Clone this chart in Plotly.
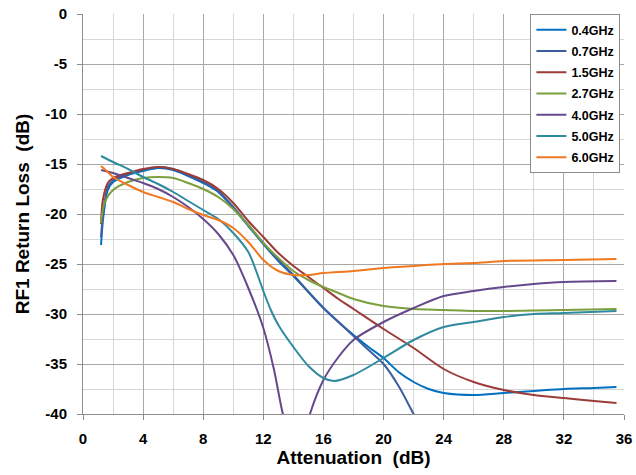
import plotly.graph_objects as go

# ---------------- data ----------------
att_04 = [1.2, 1.35, 1.65, 2, 3, 4, 5, 6, 7, 8, 9, 10, 11, 12, 13, 14, 15, 16, 17, 18, 19, 20, 21, 22, 23, 24, 26, 28, 30, 32, 34, 35.5]
rl_04 = [-23.1, -20.3, -17.6, -16.8, -16.1, -15.7, -15.4, -15.6, -16.2, -16.9, -17.8, -19.4, -21.2, -23.0, -24.7, -26.2, -27.8, -29.4, -30.8, -32.1, -33.3, -34.4, -35.8, -36.8, -37.5, -37.9, -38.1, -37.9, -37.7, -37.5, -37.4, -37.3]

att_07 = [1.2, 1.35, 1.65, 2, 3, 4, 5, 6, 7, 8, 9, 10, 11, 12, 13, 14, 15, 16, 17, 18, 19, 20, 21, 22, 23]
rl_07 = [-22.3, -19.8, -17.3, -16.6, -16.0, -15.6, -15.3, -15.5, -16.1, -16.8, -17.7, -19.3, -21.1, -22.9, -24.6, -26.1, -27.8, -29.4, -30.8, -32.2, -33.6, -35.0, -37.2, -40.0, -42.8]

att_15 = [1.2, 1.32, 1.65, 2, 3, 4, 5, 6, 7, 8, 9, 10, 11, 12, 13, 14, 15, 16, 17, 18, 20, 22, 24, 26, 28, 30, 32, 34, 35.5]
rl_15 = [-21.0, -18.6, -16.9, -16.4, -15.9, -15.5, -15.3, -15.5, -16.0, -16.6, -17.5, -18.9, -20.7, -22.3, -23.9, -25.2, -26.3, -27.4, -28.5, -29.5, -31.5, -33.4, -35.5, -36.8, -37.6, -38.1, -38.4, -38.7, -38.9]

att_27 = [1.2, 1.43, 2, 3, 4, 5, 6, 7, 8, 9, 10, 11, 12, 13, 14, 15, 16, 17, 18, 20, 22, 24, 26, 28, 32, 35.5]
rl_27 = [-20.9, -18.9, -17.6, -16.8, -16.4, -16.3, -16.4, -16.9, -17.5, -18.3, -19.5, -21.1, -22.9, -24.4, -25.7, -26.6, -27.3, -27.9, -28.5, -29.2, -29.5, -29.6, -29.7, -29.7, -29.6, -29.5]

att_40 = [1.2, 2, 3, 4, 5, 6, 7, 8, 9, 10, 11, 12, 12.7, 13.3, 14, 14.5, 15.1, 16, 17, 18, 20, 22, 24, 26, 28, 30, 32, 35.5]
rl_40 = [-15.6, -15.9, -16.4, -16.9, -17.5, -18.3, -19.3, -20.5, -22.0, -24.1, -27.4, -31.4, -35.5, -40.0, -43.5, -43.5, -40.0, -36.6, -34.3, -32.6, -30.8, -29.4, -28.2, -27.7, -27.3, -27.0, -26.8, -26.7]

att_50 = [1.2, 2, 3, 4, 5, 6, 7, 8, 9, 10, 11, 11.5, 12, 12.5, 13, 14, 15, 16, 16.7, 18, 20, 22, 24, 26, 28, 30, 32, 35.5]
rl_50 = [-14.2, -14.8, -15.5, -16.3, -17.0, -17.8, -18.7, -19.6, -20.5, -21.9, -23.8, -25.6, -27.7, -29.6, -31.1, -33.3, -35.2, -36.4, -36.7, -36.1, -34.4, -32.6, -31.3, -30.8, -30.3, -30.0, -29.9, -29.7]

att_60 = [1.2, 1.65, 2, 3, 4, 5, 6, 7, 8, 9, 10, 11, 12, 13, 14, 15, 16, 18, 20, 22, 24, 26, 28, 32, 35.5]
rl_60 = [-15.2, -15.8, -16.3, -17.1, -17.8, -18.3, -18.8, -19.5, -20.1, -20.6, -21.4, -22.8, -24.6, -25.7, -26.1, -26.1, -25.9, -25.7, -25.4, -25.2, -25.0, -24.9, -24.7, -24.6, -24.5]

series_names = ["0.4GHz", "0.7GHz", "1.5GHz", "2.7GHz", "4.0GHz", "5.0GHz", "6.0GHz"]
series_x = [att_04, att_07, att_15, att_27, att_40, att_50, att_60]
series_y = [rl_04, rl_07, rl_15, rl_27, rl_40, rl_50, rl_60]

x_ticks = [0, 4, 8, 12, 16, 20, 24, 28, 32, 36]
y_ticks = [0, -5, -10, -15, -20, -25, -30, -35, -40]

# ---------------- styling ----------------
colors = ["#0070C0", "#3C5E9E", "#9C3B37", "#7A9F3C", "#65498C", "#2F8AA0", "#F07820"]
FONT = "Liberation Sans, Arial, sans-serif"

fig = go.Figure()
for i, (name, xs, ys) in enumerate(zip(series_names, series_x, series_y)):
    fig.add_trace(go.Scatter(
        x=xs, y=ys, name=name, mode="lines",
        line=dict(color=colors[i], width=2, shape="spline", smoothing=0.8),
        legendgroup=name,
    ))

major_grid = "#A8A8A8"
minor_grid = "#D6D6D6"
axis_col = "#8C8C8C"

fig.update_layout(
    width=636, height=475, autosize=False,
    margin=dict(l=83, r=12, t=14, b=61, autoexpand=False),
    paper_bgcolor="white", plot_bgcolor="white",
    font=dict(family=FONT, color="black", size=15, weight="bold"),
    showlegend=True,
    legend=dict(
        x=0.827, xanchor="left", y=1.0, yanchor="top",
        bgcolor="white", bordercolor="#8C8C8C", borderwidth=1,
        font=dict(family=FONT, size=12.5, color="black", weight="bold"),
        tracegroupgap=2, itemwidth=30, entrywidth=115,
    ),
    xaxis=dict(
        range=[0, 36], tickvals=x_ticks, ticktext=[str(v) for v in x_ticks],
        showgrid=True, gridcolor=major_grid, gridwidth=1,
        minor=dict(dtick=2, tick0=0, showgrid=True, gridcolor=minor_grid, gridwidth=1, ticks=""),
        showline=True, linecolor=axis_col, linewidth=1,
        ticks="outside", ticklen=5, tickcolor=axis_col,
        zeroline=False, ticklabelstandoff=6,
        tickfont=dict(family=FONT, size=15, weight="bold"),
        title=dict(text="Attenuation\u00a0 (dB)", font=dict(family=FONT, size=19, weight="bold"), standoff=4),
    ),
    yaxis=dict(
        range=[-40, 0], tickvals=y_ticks, ticktext=[str(v) for v in y_ticks],
        showgrid=True, gridcolor=major_grid, gridwidth=1,
        minor=dict(dtick=2.5, tick0=0, showgrid=True, gridcolor=minor_grid, gridwidth=1, ticks=""),
        showline=True, linecolor=axis_col, linewidth=1,
        ticks="outside", ticklen=5, tickcolor=axis_col,
        zeroline=False, ticklabelstandoff=7,
        tickfont=dict(family=FONT, size=15, weight="bold"),
        title=dict(text="RF1 Return Loss\u00a0 (dB)", font=dict(family=FONT, size=19, weight="bold"), standoff=10),
    ),
)

fig.write_html("out.html", config={"displayModeBar": False},
               post_script="document.body.style.margin='0';")
